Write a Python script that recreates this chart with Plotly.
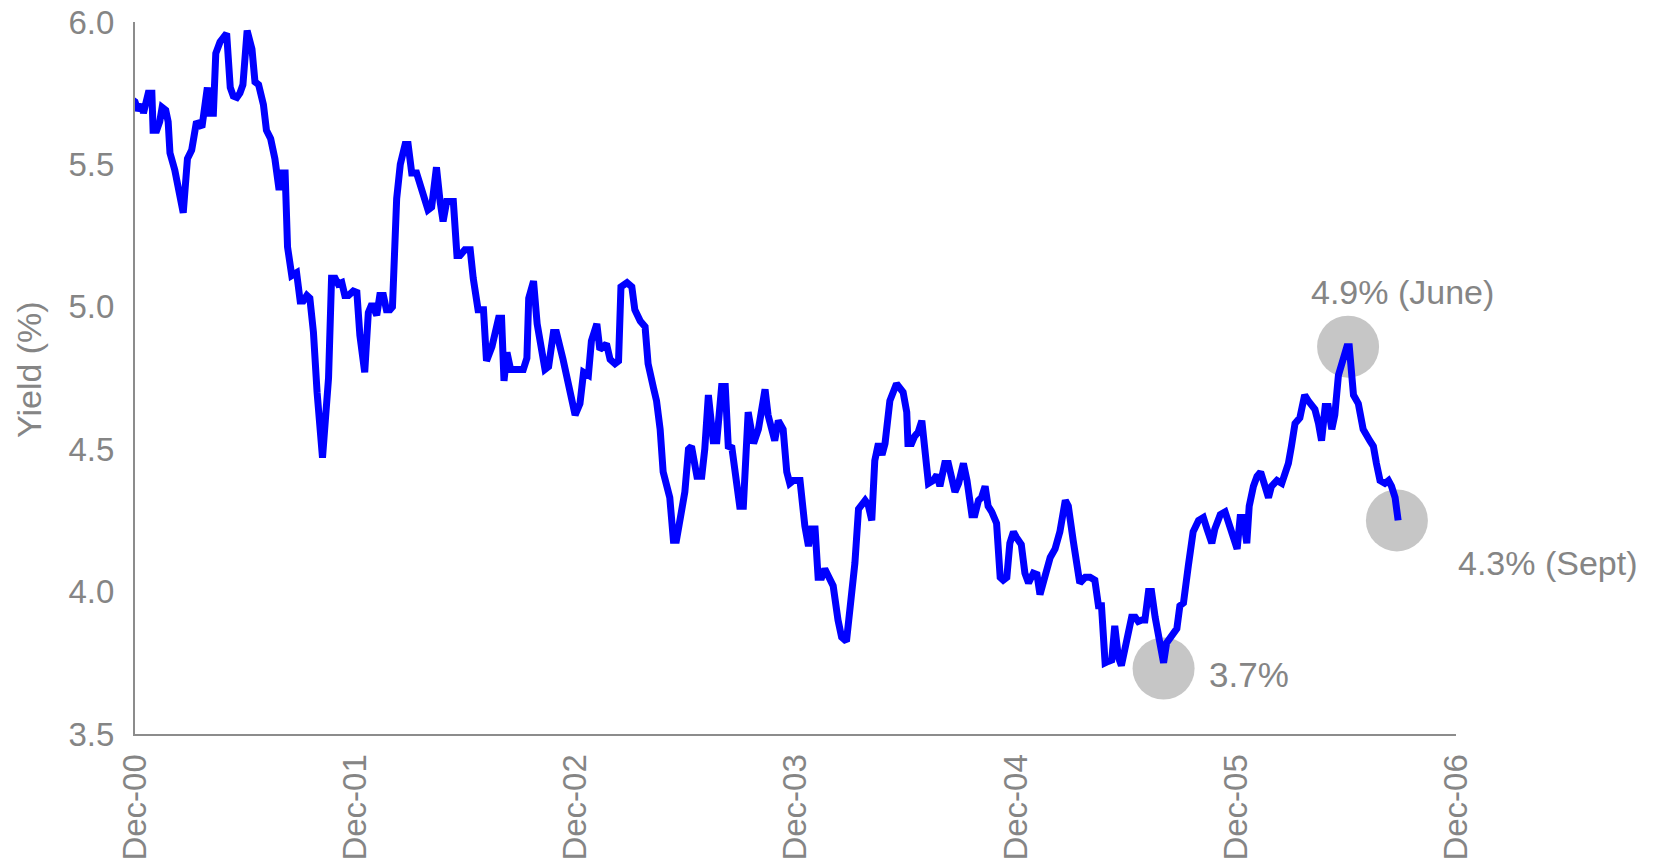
import plotly.graph_objects as go

# ---- data ----
dates = [
 "2000-11-24","2000-12-01","2000-12-06","2000-12-12","2000-12-15","2000-12-23","2000-12-29","2000-12-31",
 "2001-01-06","2001-01-11","2001-01-15","2001-01-21","2001-01-25","2001-01-28","2001-02-05","2001-02-19",
 "2001-02-26","2001-03-05","2001-03-13","2001-03-22","2001-03-31","2001-04-04","2001-04-10","2001-04-14",
 "2001-04-21","2001-04-29","2001-05-02","2001-05-08","2001-05-13","2001-05-19","2001-05-24","2001-05-29",
 "2001-06-05","2001-06-13","2001-06-18","2001-06-24","2001-07-02","2001-07-07","2001-07-14","2001-07-21",
 "2001-07-28","2001-08-01","2001-08-07","2001-08-11","2001-08-18","2001-08-26","2001-09-01","2001-09-06",
 "2001-09-12","2001-09-17","2001-09-23","2001-09-29","2001-10-08","2001-10-18","2001-10-23","2001-10-29",
 "2001-11-03","2001-11-09","2001-11-14","2001-11-20","2001-11-28","2001-12-04","2001-12-09","2001-12-17",
 "2001-12-23","2001-12-29","2002-01-03","2002-01-06","2002-01-11","2002-01-17","2002-01-22","2002-01-28",
 "2002-02-01","2002-02-08","2002-02-14","2002-02-22","2002-02-27","2002-03-05","2002-03-13","2002-03-19",
 "2002-03-27","2002-04-01","2002-04-07","2002-04-15","2002-04-21","2002-04-26","2002-05-02","2002-05-07",
 "2002-05-13","2002-05-19","2002-05-24","2002-06-01","2002-06-10","2002-06-15","2002-06-23","2002-07-02",
 "2002-07-07","2002-07-16","2002-07-27","2002-08-01","2002-08-05","2002-08-10","2002-08-16","2002-08-23",
 "2002-09-06","2002-09-12","2002-09-15","2002-09-23","2002-09-29","2002-10-12","2002-10-18","2002-10-26",
 "2002-10-31","2002-11-11","2002-11-22","2002-12-01","2002-12-09","2002-12-15","2002-12-23","2002-12-28",
 "2003-01-06","2003-01-11","2003-01-17","2003-01-22","2003-01-28","2003-02-05","2003-02-11","2003-02-15",
 "2003-02-25","2003-03-05","2003-03-10","2003-03-19","2003-03-27","2003-04-01","2003-04-10","2003-04-15",
 "2003-04-21","2003-04-26","2003-05-07","2003-05-13","2003-05-18","2003-05-27","2003-06-01","2003-06-07",
 "2003-06-12","2003-06-21","2003-06-29","2003-07-04","2003-07-10","2003-07-18","2003-07-24","2003-08-01",
 "2003-08-07","2003-08-12","2003-08-18","2003-08-31","2003-09-06","2003-09-14","2003-09-23","2003-10-01",
 "2003-10-12","2003-10-17","2003-10-23","2003-10-28","2003-11-03","2003-11-11","2003-11-17","2003-11-22",
 "2003-11-28","2003-12-09","2003-12-17","2003-12-23","2003-12-28","2004-01-03","2004-01-08","2004-01-14",
 "2004-01-19","2004-01-28","2004-02-02","2004-02-10","2004-02-16","2004-02-24","2004-03-01","2004-03-09",
 "2004-03-15","2004-03-20","2004-03-26","2004-03-31","2004-04-06","2004-04-11","2004-04-17","2004-04-23",
 "2004-04-28","2004-05-06","2004-05-17","2004-05-28","2004-06-03","2004-06-05","2004-06-11","2004-06-16",
 "2004-06-22","2004-06-28","2004-07-03","2004-07-09","2004-07-17","2004-07-23","2004-07-28","2004-08-05",
 "2004-08-11","2004-08-17","2004-08-22","2004-08-28","2004-09-05","2004-09-11","2004-09-19","2004-09-24",
 "2004-09-30","2004-10-05","2004-10-11","2004-10-16","2004-10-22","2004-10-30","2004-11-05","2004-11-10",
 "2004-11-16","2004-11-21","2004-11-27","2004-12-02","2004-12-10","2004-12-16","2004-12-22","2004-12-30",
 "2005-01-05","2005-01-10","2005-01-18","2005-01-27","2005-02-04","2005-02-12","2005-02-21","2005-02-26",
 "2005-03-06","2005-03-17","2005-03-26","2005-04-03","2005-04-11","2005-04-17","2005-04-22","2005-04-28",
 "2005-05-03","2005-05-09","2005-05-14","2005-05-20","2005-05-25","2005-06-03","2005-06-11","2005-06-17",
 "2005-06-22","2005-06-28","2005-07-03","2005-07-09","2005-07-14","2005-07-20","2005-07-28","2005-08-03",
 "2005-08-08","2005-08-16","2005-08-25","2005-08-30","2005-09-05","2005-09-13","2005-09-21","2005-09-30",
 "2005-10-08","2005-10-14","2005-10-22","2005-10-27","2005-11-05","2005-11-13","2005-11-21","2005-11-27",
 "2005-12-03","2005-12-08","2005-12-13","2005-12-19","2005-12-23","2005-12-30","2006-01-05","2006-01-11",
 "2006-01-18","2006-01-24","2006-01-29","2006-02-07","2006-02-15","2006-02-20","2006-02-26","2006-03-03",
 "2006-03-09","2006-03-17","2006-03-25","2006-03-31","2006-04-11","2006-04-17","2006-04-22","2006-04-28",
 "2006-05-03","2006-05-09","2006-05-14","2006-05-20","2006-05-25","2006-06-03","2006-06-07","2006-06-11",
 "2006-06-14","2006-06-22","2006-06-30","2006-07-11","2006-07-17","2006-07-22","2006-07-28","2006-08-05",
 "2006-08-11","2006-08-16","2006-08-22","2006-08-27",
]

yields = [
 5.73,5.72,5.69,5.71,5.68,5.75,5.75,5.62,
 5.62,5.65,5.70,5.69,5.65,5.54,5.48,5.33,
 5.52,5.55,5.65,5.63,5.77,5.68,5.68,5.89,
 5.93,5.96,5.96,5.77,5.74,5.735,5.75,5.78,
 5.97,5.905,5.79,5.78,5.71,5.62,5.59,5.52,
 5.41,5.47,5.47,5.21,5.11,5.12,5.02,5.02,
 5.04,5.03,4.91,4.70,4.47,4.75,5.10,5.10,
 5.08,5.085,5.04,5.04,5.055,5.05,4.90,4.77,
 4.98,5.01,4.99,4.97,5.04,5.04,4.99,4.99,
 5.00,5.38,5.50,5.57,5.57,5.47,5.47,5.43,
 5.36,5.34,5.35,5.49,5.37,5.30,5.37,5.37,
 5.37,5.18,5.18,5.20,5.20,5.10,4.99,4.99,
 4.81,4.86,4.96,4.96,4.74,4.84,4.78,4.78,
 4.78,4.82,5.03,5.09,4.94,4.78,4.79,4.91,
 4.91,4.815,4.71,4.62,4.66,4.77,4.76,4.88,
 4.94,4.85,4.86,4.87,4.815,4.80,4.81,5.07,
 5.085,5.07,4.99,4.95,4.93,4.80,4.715,4.67,
 4.57,4.42,4.33,4.18,4.18,4.30,4.35,4.50,
 4.51,4.405,4.405,4.50,4.69,4.53,4.53,4.72,
 4.72,4.51,4.505,4.30,4.30,4.63,4.52,4.57,
 4.71,4.62,4.56,4.53,4.60,4.57,4.42,4.38,
 4.39,4.39,4.23,4.16,4.22,4.22,4.05,4.05,
 4.08,4.04,4.02,3.90,3.84,3.825,3.94,4.10,
 4.29,4.305,4.32,4.305,4.25,4.46,4.52,4.48,
 4.52,4.67,4.73,4.70,4.63,4.52,4.52,4.545,
 4.56,4.60,4.50,4.38,4.39,4.41,4.37,4.45,
 4.45,4.405,4.35,4.38,4.45,4.39,4.27,4.27,
 4.32,4.33,4.37,4.30,4.28,4.24,4.05,4.04,
 4.05,4.17,4.21,4.19,4.165,4.065,4.03,4.065,
 4.06,3.99,4.05,4.12,4.15,4.21,4.32,4.30,
 4.18,4.03,4.05,4.05,4.04,3.95,3.95,3.75,
 3.755,3.76,3.88,3.77,3.74,3.82,3.91,3.91,
 3.895,3.90,3.90,4.00,4.00,3.91,3.82,3.75,
 3.82,3.84,3.87,3.95,3.96,4.09,4.21,4.25,
 4.26,4.22,4.17,4.22,4.27,4.28,4.23,4.18,
 4.15,4.26,4.26,4.17,4.30,4.37,4.405,4.42,
 4.38,4.33,4.37,4.39,4.38,4.405,4.45,4.51,
 4.59,4.61,4.69,4.67,4.64,4.59,4.53,4.65,
 4.65,4.57,4.62,4.76,4.79,4.86,4.86,4.70,
 4.69,4.66,4.57,4.53,4.51,4.45,4.39,4.38,
 4.39,4.37,4.33,4.25,
]

# highlighted points (circles)
highlight_dates = ["2005-08-03", "2006-06-05", "2006-08-25"]
highlight_values = [3.73, 4.86, 4.25]

# tick labels
tick_dates = ["2000-12-01", "2001-12-01", "2002-12-01", "2003-12-01",
              "2004-12-01", "2005-12-01", "2006-12-01"]
tick_labels = ["Dec-00", "Dec-01", "Dec-02", "Dec-03", "Dec-04", "Dec-05", "Dec-06"]

GRAY = "#858585"
FONT = "Liberation Sans, Arial, sans-serif"

fig = go.Figure()

fig.add_trace(go.Scatter(
    x=highlight_dates, y=highlight_values, mode="markers",
    marker=dict(size=62, color="#c6c6c6", line=dict(width=0)),
    hoverinfo="skip", showlegend=False, cliponaxis=False,
))

fig.add_trace(go.Scatter(
    x=dates, y=yields, mode="lines",
    line=dict(color="#0000ff", width=7),
    showlegend=False, cliponaxis=False,
))

W, H = 1659, 862
ml, mr, mt, mb = 135, 203, 22, 128
pw, ph = W - ml - mr, H - mt - mb

def px(x):
    return (x - ml) / pw

def py(y):
    return (H - mb - y) / ph

annotations = [
    dict(text="Yield (%)", x=px(29), y=py(370), textangle=-90,
         font=dict(size=34, color=GRAY, family=FONT)),
    dict(text="3.7%", x=px(1249), y=py(674), font=dict(size=35, color=GRAY, family=FONT)),
    dict(text="4.9% (June)", x=px(1402), y=py(292), font=dict(size=34, color=GRAY, family=FONT)),
    dict(text="4.3% (Sept)", x=px(1548), y=py(563), font=dict(size=34, color=GRAY, family=FONT)),
]
for a in annotations:
    a.update(xref="paper", yref="paper", showarrow=False, xanchor="center", yanchor="middle")

fig.update_layout(
    width=W, height=H,
    margin=dict(l=ml, r=mr, t=mt, b=mb, pad=0),
    paper_bgcolor="white", plot_bgcolor="white",
    font=dict(family=FONT, color=GRAY, size=33),
    annotations=annotations,
    xaxis=dict(
        type="date", range=["2000-12-01", "2006-12-01"],
        tickvals=tick_dates, ticktext=tick_labels, tickangle=-90,
        showgrid=False, zeroline=False, showline=True,
        linecolor="#8c8c8c", linewidth=2, ticks="",
        tickfont=dict(size=33, color=GRAY, family=FONT),
        ticklabelstandoff=5, automargin=False,
    ),
    yaxis=dict(
        range=[3.5, 6.0], dtick=0.5, tick0=3.5, tickformat=".1f",
        showgrid=False, zeroline=False, showline=True,
        linecolor="#8c8c8c", linewidth=2, ticks="",
        tickfont=dict(size=33, color=GRAY, family=FONT),
        ticklabelstandoff=12, automargin=False,
    ),
)

fig.write_html("out.html")
